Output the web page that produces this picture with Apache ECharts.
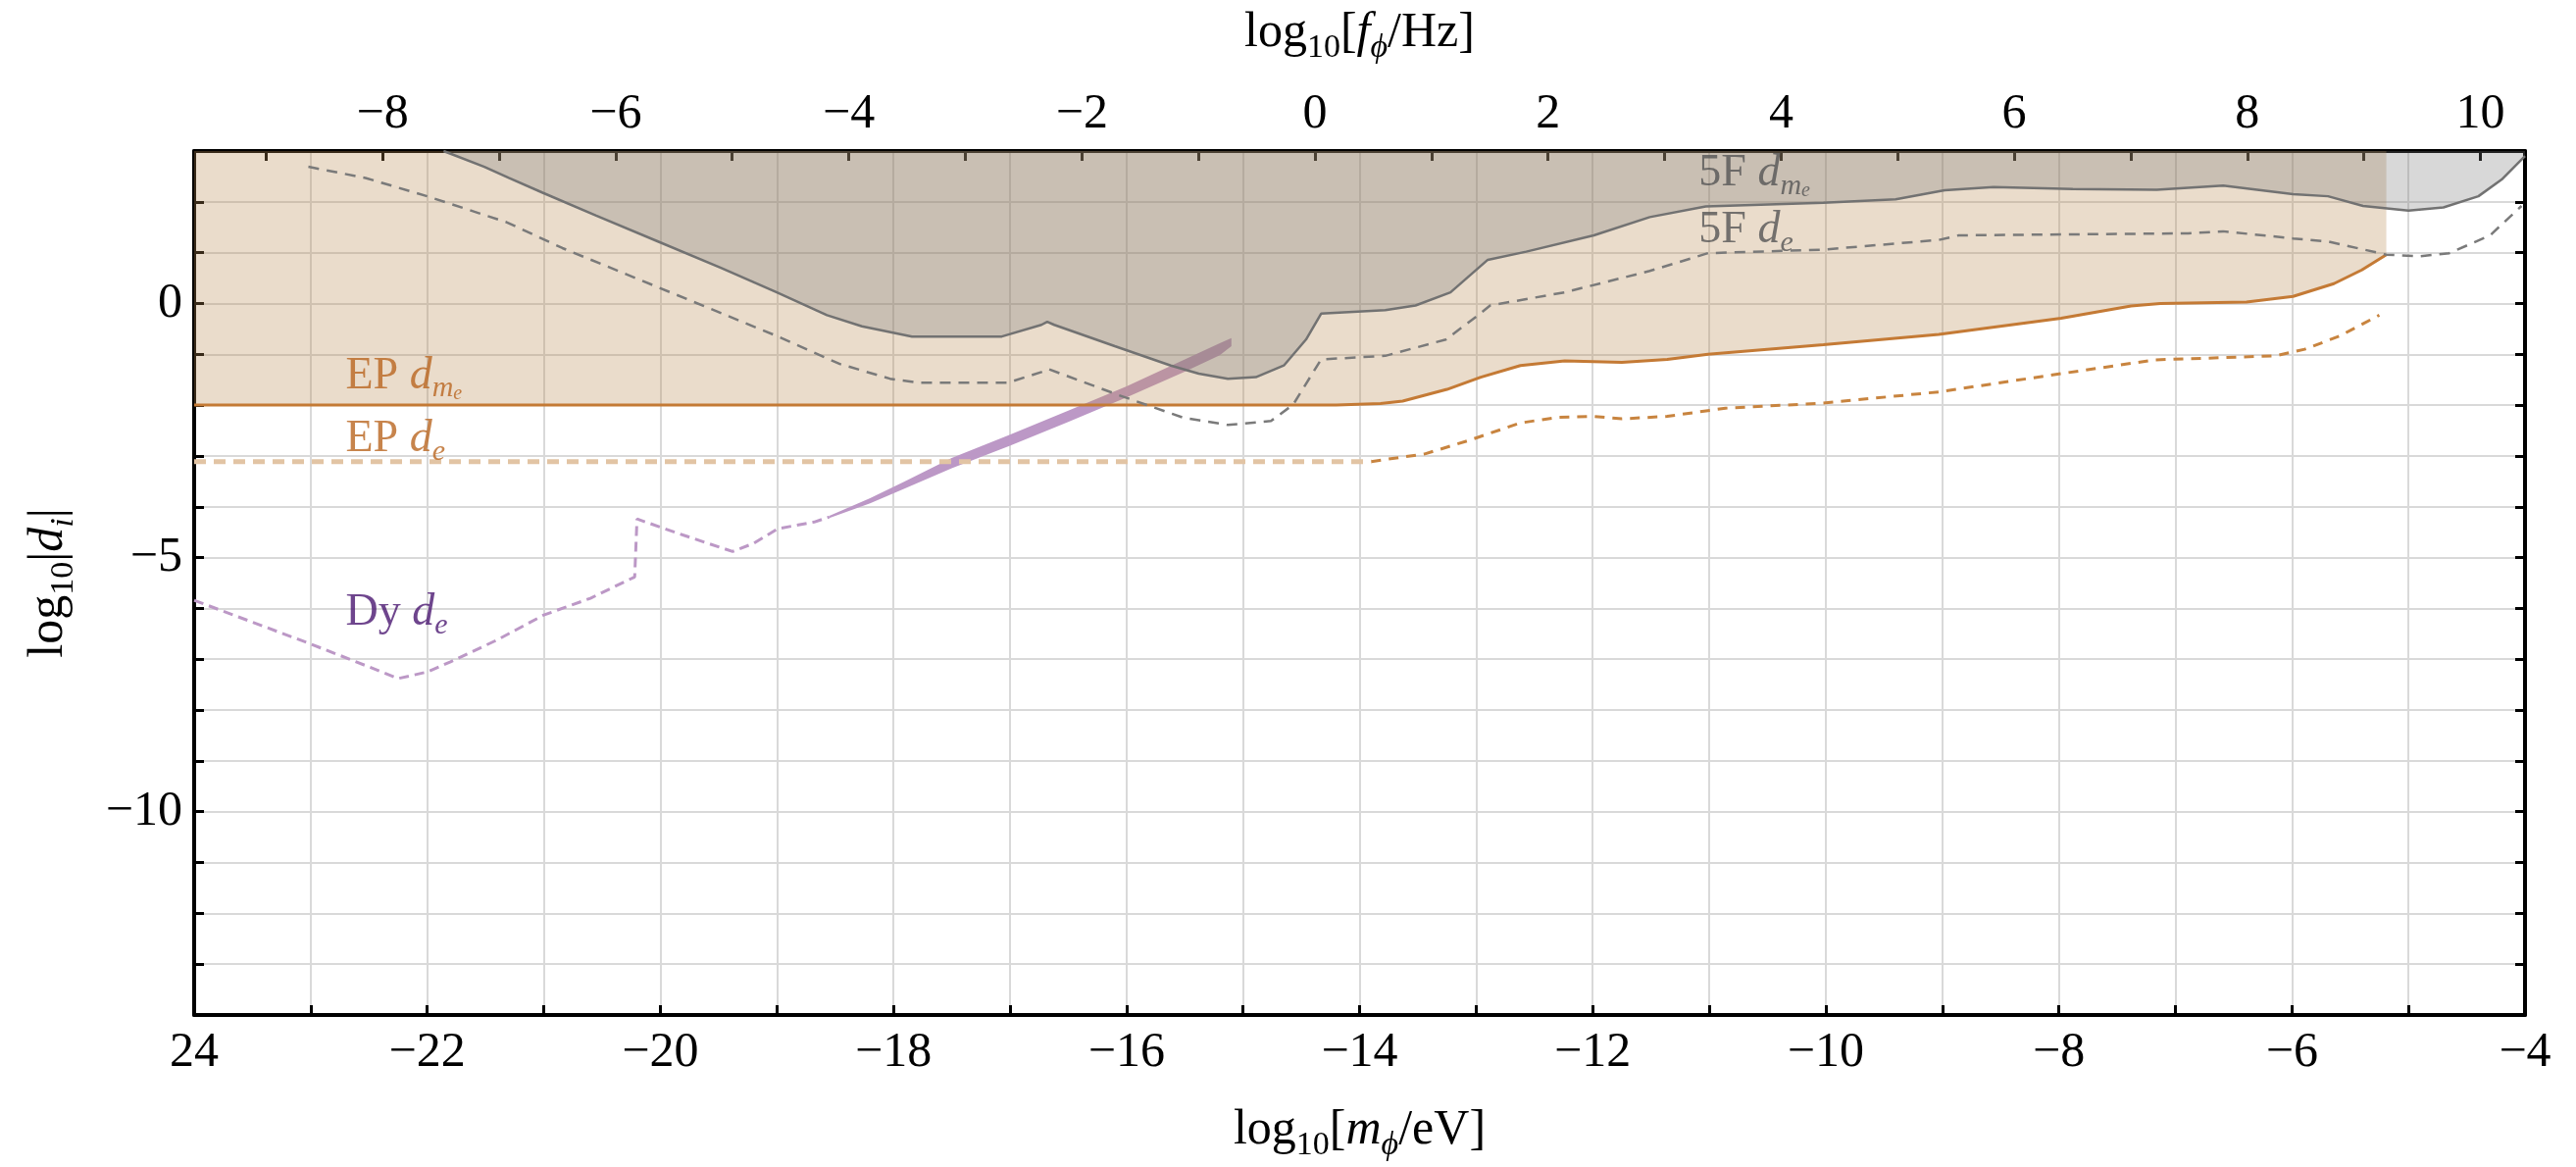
<!DOCTYPE html>
<html>
<head>
	<meta charset="utf-8">
	<title>couplings</title>
	<script type="text/javascript" src="https://cdn.jsdelivr.net/npm/echarts@6.0.0/dist/echarts.min.js"></script>
	<style>
		html, body { margin: 0; padding: 0; background: #fff; }
	</style>
</head>
<body>
	<div id="main" style="width: 2627px;height:1190px;"></div>
	<script type="text/javascript">
		// x = log10(m_phi/eV), y = log10|d_i|
		const HZ_OFFSET = 14.383; // log10(1 eV / h / Hz), top axis shift

		var massLabelValues = [-24, -22, -20, -18, -16, -14, -12, -10, -8, -6, -4];
		var massLabelText = ['24', '\u221222', '\u221220', '\u221218', '\u221216', '\u221214', '\u221212', '\u221210', '\u22128', '\u22126', '\u22124'];
		var freqTickValues = [-9, -8, -7, -6, -5, -4, -3, -2, -1, 0, 1, 2, 3, 4, 5, 6, 7, 8, 9, 10];
		var freqLabelValues = [-8, -6, -4, -2, 0, 2, 4, 6, 8, 10];
		var coupLabelValues = [0, -5, -10];

		// fifth force, d_me (solid gray) and d_e (dashed gray)
		var fifthForceDme = [
			[-21.86, 3.00], [-21.51, 2.69], [-21.30, 2.47], [-21.01, 2.18], [-20.55, 1.73], [-20.02, 1.22],
			[-19.48, 0.70], [-19.00, 0.22], [-18.57, -0.23], [-18.27, -0.45], [-17.84, -0.65], [-17.07, -0.65],
			[-16.73, -0.42], [-16.68, -0.36], [-16.62, -0.42], [-16.10, -0.84], [-15.62, -1.22], [-15.38, -1.38],
			[-15.13, -1.48], [-14.89, -1.45], [-14.65, -1.22], [-14.46, -0.71], [-14.33, -0.20], [-13.78, -0.13],
			[-13.52, -0.04], [-13.22, 0.22], [-12.90, 0.86], [-12.57, 1.02], [-11.99, 1.34], [-11.51, 1.70],
			[-11.03, 1.91], [-10.02, 1.98], [-9.40, 2.05], [-8.98, 2.23], [-8.56, 2.29], [-7.88, 2.25],
			[-7.16, 2.24], [-6.59, 2.32], [-5.99, 2.15], [-5.69, 2.11], [-5.39, 1.92], [-5.00, 1.83],
			[-4.70, 1.89], [-4.40, 2.11], [-4.20, 2.44], [-4.00, 2.90]
		];
		var fifthForceDe = [
			[-23.02, 2.69], [-22.53, 2.47], [-22.00, 2.11], [-21.32, 1.60], [-20.84, 1.09], [-20.02, 0.32],
			[-19.00, -0.64], [-18.46, -1.19], [-18.03, -1.48], [-17.78, -1.56], [-17.02, -1.56], [-16.73, -1.35],
			[-16.67, -1.29], [-16.07, -1.80], [-15.51, -2.25], [-15.13, -2.39], [-14.76, -2.31], [-14.57, -1.99],
			[-14.33, -1.10], [-13.78, -1.03], [-13.26, -0.71], [-13.00, -0.26], [-12.88, -0.04], [-12.24, 0.22],
			[-11.51, 0.64], [-11.01, 0.99], [-10.02, 1.06], [-9.03, 1.25], [-8.86, 1.34], [-7.88, 1.36],
			[-6.89, 1.38], [-6.59, 1.42], [-5.99, 1.28], [-5.69, 1.22], [-5.19, 0.96], [-4.90, 0.93],
			[-4.65, 0.99], [-4.30, 1.34], [-4.03, 1.92]
		];

		// equivalence principle, d_me (solid orange) and d_e (dashed)
		var epDme = [
			[-24.00, -2.00], [-14.20, -2.00], [-13.82, -1.97], [-13.63, -1.92], [-13.25, -1.69], [-12.96, -1.45],
			[-12.62, -1.22], [-12.24, -1.13], [-11.75, -1.16], [-11.36, -1.10], [-11.01, -1.00], [-10.02, -0.81],
			[-9.03, -0.61], [-7.98, -0.29], [-7.38, -0.05], [-7.13, 0.00], [-6.39, 0.03], [-5.99, 0.14],
			[-5.64, 0.39], [-5.40, 0.66], [-5.19, 0.96]
		];
		var epDeFar = [[-24.00, -3.11], [-13.90, -3.11]];
		var epDe = [
			[-13.90, -3.11], [-13.44, -2.96], [-13.07, -2.70], [-12.62, -2.35], [-12.30, -2.24], [-12.00, -2.22],
			[-11.75, -2.27], [-11.36, -2.22], [-10.86, -2.06], [-10.02, -1.96], [-9.03, -1.74], [-7.98, -1.38],
			[-7.18, -1.11], [-6.14, -1.03], [-5.89, -0.90], [-5.59, -0.64], [-5.25, -0.23]
		];

		// dysprosium, d_e
		var dyDe = [
			[-24.00, -5.84], [-23.00, -6.70], [-22.50, -7.15], [-22.25, -7.38], [-22.00, -7.25], [-21.80, -7.05],
			[-21.40, -6.62], [-21.00, -6.13], [-20.60, -5.80], [-20.22, -5.38], [-20.20, -4.24], [-19.80, -4.56],
			[-19.38, -4.88], [-19.20, -4.72], [-18.99, -4.43], [-18.68, -4.30], [-18.55, -4.20]
		];
		// noisy tail drawn as a band
		var dyBandM = [-18.55, -18.2, -17.9, -17.5, -17.0, -16.5, -16.0, -15.5, -15.2, -15.1];
		var dyBandLo = [-4.22, -3.93, -3.64, -3.24, -2.80, -2.33, -1.85, -1.34, -1.02, -0.84];
		var dyBandHi = [-4.18, -3.83, -3.50, -3.04, -2.58, -2.11, -1.63, -1.10, -0.78, -0.68];

		const SERIF = '"Liberation Serif", "Times New Roman", serif';
		const ORANGE = '#C47A35';
		const GRAY = '#727272';
		const PURPLE = '#BC98C6';

		var titleRich = {
			n: { fontFamily: SERIF, fontSize: 50, lineHeight: 64, color: '#000' },
			s: { fontFamily: SERIF, fontSize: 34, lineHeight: 34, verticalAlign: 'bottom', color: '#000' },
			i: { fontFamily: SERIF, fontSize: 50, lineHeight: 64, fontStyle: 'italic', color: '#000' },
			is: { fontFamily: SERIF, fontSize: 34, lineHeight: 34, verticalAlign: 'bottom', fontStyle: 'italic', color: '#000' }
		};

		function labelRich(color) {
			return {
				i: { fontFamily: SERIF, fontStyle: 'italic', fontSize: 46, lineHeight: 56, color: color },
				s: { fontFamily: SERIF, fontStyle: 'italic', fontSize: 30, lineHeight: 34, verticalAlign: 'bottom', color: color },
				ss: { fontFamily: SERIF, fontStyle: 'italic', fontSize: 20, lineHeight: 16, verticalAlign: 'bottom', color: color }
			};
		}

		var annotations = [
			{ at: [-22.70, -1.43], text: 'EP {i|d}{s|m}{ss|e}', color: '#B9651F' },
			{ at: [-22.70, -2.68], text: 'EP {i|d}{s|e}', color: '#B9651F' },
			{ at: [-22.70, -6.09], text: 'Dy {i|d}{s|e}', color: '#4A1670' },
			{ at: [-11.09, 2.56], text: '5F {i|d}{s|m}{ss|e}', color: '#555555' },
			{ at: [-11.09, 1.44], text: '5F {i|d}{s|e}', color: '#555555' }
		];

		var frame = { show: true, onZero: false, lineStyle: { color: '#000', width: 4 } };
		var ticks = { show: true, inside: true, length: 10, lineStyle: { color: '#000', width: 3 } };
		var tickFont = { fontFamily: SERIF, fontSize: 50, color: '#000' };
		var grid = { show: true, lineStyle: { color: '#D9D9D9', width: 2 } };

		function lineSeries(data, color, width, type, extra) {
			var s = {
				type: 'line', data: data, symbol: 'none', showSymbol: false, silent: true,
				lineStyle: { color: color, width: width, type: type }
			};
			return Object.assign(s, extra || {});
		}

		var myChart = echarts.init(document.getElementById('main'));

		var option = {
			animation: false,
			backgroundColor: '#fff',
			grid: { left: 198, right: 52, top: 154, bottom: 153 },
			xAxis: [{
				type: 'value', position: 'bottom', min: -24, max: -4, interval: 1,
				axisLine: frame, axisTick: ticks, splitLine: grid,
				axisLabel: Object.assign({
					margin: 14, showMinLabel: true, showMaxLabel: true,
					formatter: function (v) {
						var k = massLabelValues.indexOf(Math.round(v));
						return (k < 0 || Math.abs(v - Math.round(v)) > 1e-6) ? '' : massLabelText[k];
					}
				}, tickFont),
				name: '{n|log}{s|10}{n|[}{i|m}{is|\u03D5}{n|/eV]}',
				nameLocation: 'middle', nameGap: 86,
				nameTextStyle: { rich: titleRich }
			}, {
				type: 'value', position: 'top', min: -24 + HZ_OFFSET, max: -4 + HZ_OFFSET,
				axisLine: frame,
				axisTick: Object.assign({ customValues: freqTickValues }, ticks),
				splitLine: { show: false },
				axisLabel: Object.assign({
					margin: 12, customValues: freqLabelValues,
					formatter: function (v) { return v < 0 ? '\u2212' + Math.abs(v) : String(v); }
				}, tickFont),
				name: '{n|log}{s|10}{n|[}{i|f}{is|\u03D5}{n|/Hz]}',
				nameLocation: 'middle', nameGap: 88,
				nameTextStyle: { rich: titleRich }
			}],
			yAxis: [{
				type: 'value', position: 'left', min: -14, max: 3, interval: 1,
				axisLine: frame, axisTick: ticks, splitLine: grid,
				axisLabel: Object.assign({
					margin: 12,
					formatter: function (v) {
						if (coupLabelValues.indexOf(v) < 0) return '';
						return v < 0 ? '\u2212' + Math.abs(v) : String(v);
					}
				}, tickFont),
				name: '{n|log}{s|10}{n||}{i|d}{is|i}{n||}',
				nameLocation: 'middle', nameGap: 116, nameRotate: 90,
				nameTextStyle: { rich: titleRich }
			}, {
				type: 'value', position: 'right', min: -14, max: 3, interval: 1,
				axisLine: frame, axisTick: ticks, splitLine: { show: false },
				axisLabel: { show: false }
			}],
			series: [
				lineSeries(dyDe, PURPLE, 3, [10, 6]),
				{
					type: 'custom', silent: true,
					data: [[dyBandM[0], dyBandLo[0]]],
					renderItem: function (params, api) {
						var pts = [];
						for (var i = 0; i < dyBandM.length; i++) pts.push(api.coord([dyBandM[i], dyBandHi[i]]));
						for (var j = dyBandM.length - 1; j >= 0; j--) pts.push(api.coord([dyBandM[j], dyBandLo[j]]));
						return { type: 'polygon', shape: { points: pts }, style: { fill: PURPLE } };
					}
				},
				lineSeries(epDme, ORANGE, 3, 'solid', {
					areaStyle: { color: 'rgba(185,138,82,0.3)', opacity: 1, origin: 'end' }
				}),
				lineSeries(fifthForceDme, GRAY, 2.5, 'solid', {
					areaStyle: { color: 'rgba(119,119,119,0.286)', opacity: 1, origin: 'end' }
				}),
				lineSeries(epDeFar, '#E2C4A4', 5, [12, 8]),
				lineSeries(epDe, '#C8843F', 3, [10, 8]),
				lineSeries(fifthForceDe, '#7A7A7A', 2.5, [11, 8]),
				{
					type: 'scatter', symbolSize: 0, silent: true, z: 10,
					label: { show: true, position: 'right', distance: 0, fontFamily: SERIF, fontSize: 46, lineHeight: 56 },
					data: annotations.map(function (a) {
						return {
							value: a.at,
							label: { formatter: a.text, color: a.color, rich: labelRich(a.color) }
						};
					})
				}
			]
		};

		myChart.setOption(option);
	</script>
</body>
</html>
